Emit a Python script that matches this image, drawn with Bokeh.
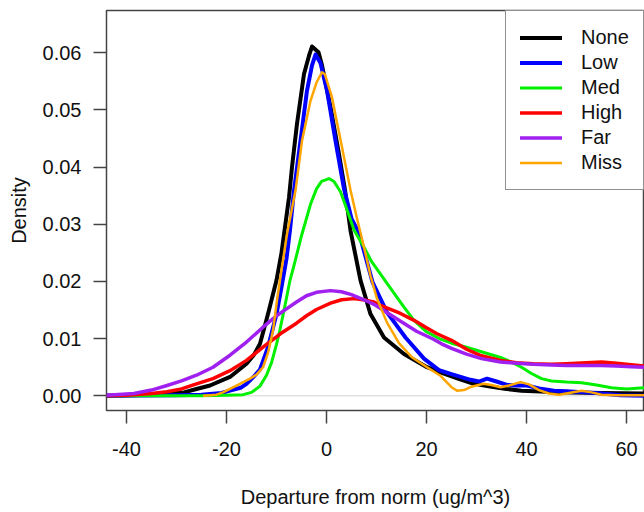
from bokeh.plotting import figure
from bokeh.models import Range1d, FixedTicker, PrintfTickFormatter, Legend, LegendItem, Span
from bokeh.embed import file_html
from bokeh.resources import INLINE

# ---- data ----
none_x = [-44, -40, -35, -30, -28.5, -26, -23.3, -19.3, -16, -14.5, -13.3, -11.7, -10, -9, -7.5, -6.9, -5.9, -4.5, -3.5, -2.9,
          -1.6, -0.9, 0.8, 2.5, 3.7, 4.8, 6.8, 8.8, 11.5, 15.5, 20.1, 22.8, 26, 29, 33, 36, 39, 44, 49, 55, 63.6]
none_y = [0.0, 0.0001, 0.0002, 0.0005, 0.0006, 0.0012, 0.0018, 0.0033, 0.0056, 0.0072, 0.0091, 0.0143, 0.0202, 0.025, 0.0347, 0.040, 0.0476, 0.0563, 0.0595, 0.0611,
          0.0601, 0.0578, 0.0505, 0.0423, 0.036, 0.0289, 0.0202, 0.0143, 0.0102, 0.0073, 0.005, 0.0041, 0.0031, 0.0022, 0.0016, 0.0012, 0.0009, 0.0007, 0.0006, 0.0005, 0.0004]

low_x = [-44, -30, -25, -21, -19.3, -17.2, -16, -14.6, -13.3, -11.7, -10, -9, -8, -7.3, -6.5, -5.2, -3.9, -2.9, -2.2,
         -1.2, 0.1, 1.8, 3.5, 5, 6.5, 9.2, 12.1, 15.8, 19.5, 22.5, 25, 28.8, 30.5, 32.1, 34, 36.1, 38, 40.1, 42.5, 45.5, 48, 52, 55, 58.8, 63.6]
low_y = [0.0, 0.0001, 0.0002, 0.0005, 0.0009, 0.0014, 0.0021, 0.0033, 0.0046, 0.0085, 0.0143, 0.019, 0.024, 0.029, 0.0359, 0.0446, 0.0534, 0.0578, 0.0597,
         0.0582, 0.0534, 0.0446, 0.0362, 0.031, 0.0285, 0.0199, 0.0146, 0.0102, 0.0065, 0.0045, 0.0038, 0.0028, 0.0025, 0.003, 0.0025, 0.0019, 0.0018, 0.0018, 0.0013, 0.0009, 0.0008, 0.0006, 0.0004, 0.0001, 0.0]

med_x = [-44, -25, -20, -16.7, -15, -13.3, -12, -11, -10, -9.3, -8.3, -7.3, -6.5, -5, -3.2, -2, -1, 0.5, 1.5, 2.8, 3.8, 5.5, 7.5, 9,
         10.8, 12.5, 14.1, 15.5, 17.5, 20, 22.8, 25, 28, 31, 34.8, 37, 39, 41, 43, 45, 48, 51, 54, 57, 60, 63.6]
med_y = [0.0, 0.0, 0.0001, 0.0002, 0.0006, 0.0017, 0.0036, 0.0058, 0.009, 0.0116, 0.0158, 0.0202, 0.0228, 0.028, 0.0335, 0.0362, 0.0375, 0.038, 0.0375, 0.0357, 0.0333, 0.029, 0.026, 0.0235,
         0.0213, 0.0192, 0.0172, 0.0155, 0.0132, 0.0112, 0.0099, 0.0092, 0.0085, 0.0077, 0.0067, 0.0059, 0.005, 0.0039, 0.003, 0.0026, 0.0024, 0.0023, 0.0019, 0.0014, 0.0012, 0.0014]

high_x = [-44, -40, -38.5, -35, -31.9, -29, -26, -22.7, -19.3, -16, -12.7, -9.3, -6, -4, -2, 0.8, 3, 5.5, 8, 9.5, 10.8, 14.8, 17.5, 20, 22,
          25, 28.1, 31, 34.8, 38, 41.4, 45, 48, 52, 55, 58, 61.4, 63.6]
high_y = [0.0, 0.0001, 0.0002, 0.0004, 0.0007, 0.0012, 0.0021, 0.003, 0.0044, 0.0062, 0.0085, 0.0108, 0.0127, 0.014, 0.0151, 0.0162, 0.0168, 0.017, 0.0167, 0.0164, 0.0158, 0.0144, 0.0132, 0.0119, 0.0109,
          0.0097, 0.0081, 0.007, 0.0062, 0.0058, 0.0056, 0.0055, 0.0056, 0.0058, 0.0059, 0.0057, 0.0054, 0.0052]

far_x = [-44, -40, -38.5, -35, -31.9, -29, -26, -22.7, -19.3, -16, -12.7, -10, -8, -6, -4, -2, 0.8, 3, 5, 7.5, 9.5, 12, 14.5, 18, 21.4, 23,
         25, 28, 31, 34.8, 38, 41.4, 45, 48, 52, 55, 58, 61, 63.6]
far_y = [0.0001, 0.0003, 0.0004, 0.001, 0.0018, 0.0026, 0.0036, 0.005, 0.0071, 0.0094, 0.012, 0.014, 0.0152, 0.0164, 0.0175, 0.0181, 0.0184, 0.0182, 0.0177, 0.0168, 0.016, 0.0146, 0.0132, 0.0113, 0.0099, 0.0091,
         0.0083, 0.0073, 0.0065, 0.0059, 0.0057, 0.0055, 0.0054, 0.0053, 0.0053, 0.0053, 0.0052, 0.0051, 0.005]

miss_x = [-24.5, -22, -20.7, -18, -15.3, -14, -12.7, -11.7, -10.7, -9.9, -9, -7.9, -6.2, -4.9, -3.2, -2, -0.9, -0.3, 1.1, 3.1, 4.8, 6.1, 7.5, 8.8,
          10.1, 12.1, 14.5, 17, 20.1, 22.8, 25, 26.1, 27.5, 29, 31.4, 33, 34.8, 36.5, 38.8, 40.5, 42.5, 44.5, 46.5, 48.5, 51, 53, 55, 58, 63.6]
miss_y = [0.0, 0.0002, 0.0006, 0.0018, 0.003, 0.0037, 0.005, 0.0075, 0.0114, 0.0167, 0.022, 0.0283, 0.0359, 0.0446, 0.0516, 0.0548, 0.0566, 0.0562, 0.0522, 0.0435, 0.036, 0.031, 0.026, 0.021,
          0.017, 0.0128, 0.0092, 0.0068, 0.005, 0.0035, 0.0015, 0.0009, 0.001, 0.0016, 0.0021, 0.0019, 0.0015, 0.0018, 0.0024, 0.002, 0.001, 0.0004, 0.0002, 0.0005, 0.0009, 0.0006, 0.0002, 0.0001, 0.0001]

series = [
    ("None", none_x, none_y, "#000000", 4),
    ("Low", low_x, low_y, "#0000FF", 4),
    ("Med", med_x, med_y, "#00F000", 3),
    ("High", high_x, high_y, "#FF0000", 3.5),
    ("Far", far_x, far_y, "#A020F0", 3.5),
    ("Miss", miss_x, miss_y, "#FFA500", 2.5),
]

x_ticks = [-40, -20, 0, 20, 40, 60]
x_tick_labels = ["-40", "-20", "0", "20", "40", "60"]
y_ticks = [0.0, 0.01, 0.02, 0.03, 0.04, 0.05, 0.06]

FONT = "Liberation Sans"

p = figure(width=644, height=512, output_backend="svg", toolbar_location=None,
           x_range=Range1d(-44, 63.6), y_range=Range1d(-0.00257, 0.0674),
           min_border_left=106, min_border_right=0, min_border_top=10, min_border_bottom=102)
p.background_fill_color = "white"
p.border_fill_color = "white"
p.grid.visible = False
p.outline_line_color = "#444444"
p.outline_line_width = 1.5

zero = Span(location=0, dimension="width", line_color="#e2e2e2", line_width=1.5, level="underlay")
p.add_layout(zero)

items = []
for name, xs, ys, col, lw in series:
    r = p.line(xs, ys, line_color=col, line_width=lw, line_join="round", line_cap="round")
    items.append(LegendItem(label=name, renderers=[r]))

for ax in (p.xaxis[0], p.yaxis[0]):
    ax.axis_line_color = None
    ax.major_tick_line_color = "#444444"
    ax.major_tick_line_width = 1.5
    ax.major_tick_out = 13
    ax.major_tick_in = 0
    ax.minor_tick_line_color = None
    ax.major_label_text_font = FONT
    ax.major_label_text_font_size = "20px"
    ax.major_label_text_color = "#111111"
    ax.axis_label_text_font = FONT
    ax.axis_label_text_font_size = "20px"
    ax.axis_label_text_font_style = "normal"
    ax.axis_label_text_color = "#111111"

p.xaxis[0].ticker = FixedTicker(ticks=x_ticks)
p.xaxis[0].major_label_overrides = dict(zip(x_ticks, x_tick_labels))
p.yaxis[0].ticker = FixedTicker(ticks=y_ticks)
p.yaxis[0].formatter = PrintfTickFormatter(format="%.2f")
p.xaxis[0].major_label_standoff = 18
p.yaxis[0].major_label_standoff = 12
p.xaxis[0].axis_label = "Departure from norm (ug/m^3)"
p.yaxis[0].axis_label = "Density"
p.xaxis[0].axis_label_standoff = 27
p.yaxis[0].axis_label_standoff = 10

legend = Legend(items=items, location="top_right", margin=0, padding=14, spacing=0,
                glyph_width=42, glyph_height=25, label_height=25, label_width=48, label_standoff=19,
                label_text_font=FONT, label_text_font_size="20px", label_text_color="#111111",
                border_line_color="#222222", border_line_width=1.5,
                background_fill_color="white", background_fill_alpha=1.0)
p.add_layout(legend)

open("out.html", "w").write(file_html(p, INLINE))
